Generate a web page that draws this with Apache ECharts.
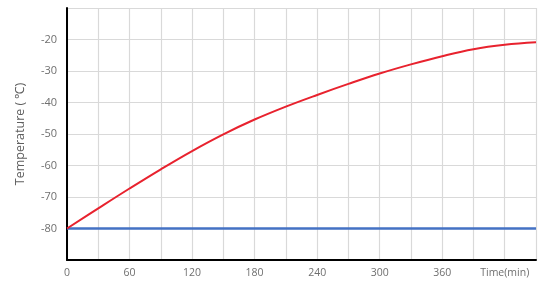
<!DOCTYPE html>
<html>
<head>
<meta charset="utf-8">
<script src="https://cdn.jsdelivr.net/npm/echarts@6/dist/echarts.min.js"></script>
<style>html,body{margin:0;padding:0;background:#fff;}#c{width:547px;height:282px;}</style>
</head>
<body>
<div id="c"></div>
<script>
const timeMin = [0, 30, 60, 90, 120, 150, 180, 210, 240, 270, 300, 330, 360, 390, 420, 450];
const redTemp = [-80, -73.6, -67.3, -61.2, -55.4, -50.1, -45.4, -41.3, -37.6, -34.1, -30.8, -27.9, -25.3, -23.1, -21.7, -20.9];
const blueTemp = [-80, -80, -80, -80, -80, -80, -80, -80, -80, -80, -80, -80, -80, -80, -80, -80];
const xTickLabels = {0: '0', 60: '60', 120: '120', 180: '180', 240: '240', 300: '300', 360: '360', 420: 'Time(min)'};
const yTickLabels = [-20, -30, -40, -50, -60, -70, -80];
const yAxisName = 'Temperature ( ℃)';

const chart = echarts.init(document.getElementById('c'), null, {renderer: 'canvas'});
chart.setOption({
  animation: false,
  backgroundColor: '#fff',
  grid: {left: 67, right: 11, top: 8, bottom: 22},
  xAxis: {
    type: 'value', min: 0, max: 450, interval: 30,
    axisLine: {show: true, onZero: false, lineStyle: {color: '#000', width: 2}},
    axisTick: {show: false},
    splitLine: {show: true, lineStyle: {color: '#d9d9d9', width: 1.2}},
    axisLabel: {
      color: '#6f6f6f', fontFamily: 'Open Sans', fontSize: 10.5, margin: 8,
      formatter: v => (xTickLabels[v] !== undefined ? xTickLabels[v] : '')
    }
  },
  yAxis: {
    type: 'value', min: -90, max: -10, interval: 10,
    name: yAxisName, nameLocation: 'middle', nameGap: 40,
    nameTextStyle: {color: '#5f5f5f', fontFamily: 'Open Sans', fontSize: 12.5},
    axisLine: {show: true, onZero: false, lineStyle: {color: '#000', width: 2}},
    axisTick: {show: false},
    splitLine: {show: true, lineStyle: {color: '#d9d9d9', width: 1.2}},
    axisLabel: {
      color: '#6f6f6f', fontFamily: 'Open Sans', fontSize: 11, margin: 10,
      formatter: v => (yTickLabels.indexOf(v) >= 0 ? String(v) : '')
    }
  },
  series: [
    {
      type: 'line', data: timeMin.map((t, i) => [t, blueTemp[i]]),
      showSymbol: false, lineStyle: {color: '#4472c4', width: 2.5}, z: 3
    },
    {
      type: 'line', data: timeMin.map((t, i) => [t, redTemp[i]]),
      showSymbol: false, smooth: 0.4, lineStyle: {color: '#e8222e', width: 2}, z: 4
    }
  ]
});
</script>
</body>
</html>
